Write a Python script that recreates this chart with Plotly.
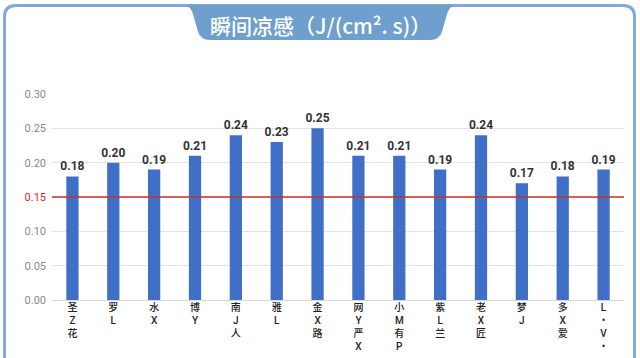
import plotly.graph_objects as go

W, H = 640, 358

categories = ["圣<br>Z<br>花", "罗<br>L", "水<br>X", "博<br>Y", "南<br>J<br>人", "雅<br>L",
              "金<br>X<br>路", "网<br>Y<br>严<br>X", "小<br>M<br>有<br>P", "紫<br>L<br>兰",
              "老<br>X<br>匠", "梦<br>J", "多<br>X<br>爱", "L<br>•<br>V<br>•"]
values = [0.18, 0.20, 0.19, 0.21, 0.24, 0.23, 0.25, 0.21, 0.21, 0.19, 0.24, 0.17, 0.18, 0.19]
threshold = 0.15
tick_vals = [0.00, 0.05, 0.10, 0.15, 0.20, 0.25, 0.30]
title_text = "瞬间凉感（J/(cm². s)）"

BAR = "#3f6fc6"
RED = "#c9302c"
FRAME = "#80a9d3"
TAB = "#6f9fcc"
FONT = "Noto Sans CJK SC, Noto Sans, sans-serif"


def px(x):
    return x / W


def py(y):
    return 1 - y / H


def path(cmds):
    out = []
    for c in cmds:
        if isinstance(c, str):
            out.append(c)
        else:
            out.append(f"{px(c[0]):.5f},{py(c[1]):.5f}")
    return " ".join(out)


fig = go.Figure()
fig.add_trace(go.Bar(
    x=categories, y=values, marker_color=BAR, marker_line_width=0,
    texttemplate="%{y:.2f}", textposition="outside", cliponaxis=False,
    constraintext="none", hoverinfo="skip",
    textfont=dict(family="Roboto, Noto Sans, sans-serif", size=12, color="#333333", weight="bold"),
))

ticktext = []
for v in tick_vals:
    s = f"{v:.2f}"
    if abs(v - threshold) < 1e-9:
        s = f"<span style='color:{RED}'>{s}</span>"
    ticktext.append(s)

shapes = [
    # outer frame
    dict(type="path", xref="paper", yref="paper",
         path=path(["M", (4.5, 365), "L", (4.5, 17), "Q", (4.5, 5.5), (16, 5.5),
                    "L", (623, 5.5), "Q", (634.5, 5.5), (634.5, 17), "L", (634.5, 365)]),
         line=dict(color=FRAME, width=3), layer="above"),
    # title tab
    dict(type="path", xref="paper", yref="paper",
         path=path(["M", (184, 5), "Q", (190, 5), (193, 14), "L", (198, 32),
                    "Q", (201, 40), (210, 40), "L", (430, 40), "Q", (439, 40), (442, 32),
                    "L", (447, 14), "Q", (450, 5), (456, 5), "Z"]),
         fillcolor=TAB, line=dict(width=0), layer="above"),
    # threshold line
    dict(type="line", xref="x domain", yref="y", x0=0, x1=1, y0=threshold, y1=threshold,
         line=dict(color=RED, width=1.5), layer="above"),
]

fig.update_layout(
    width=W, height=H,
    margin=dict(l=0, r=0, t=0, b=0, autoexpand=False),
    paper_bgcolor="white", plot_bgcolor="white",
    showlegend=False,
    bargap=0.7,
    font=dict(family=FONT),
    shapes=shapes,
    annotations=[dict(text=title_text, x=0.5, y=py(25), xref="paper", yref="paper",
                      showarrow=False, xanchor="center", yanchor="middle",
                      font=dict(family=FONT, size=21, color="white", weight=500))],
    xaxis=dict(domain=[px(52), px(624)], automargin=False,
               tickfont=dict(size=10, color="#222222", family="Roboto, Noto Sans CJK SC, sans-serif",
                             weight=500),
               showgrid=False, showline=False, ticks="", tickangle=0, fixedrange=True),
    yaxis=dict(domain=[1 - 300 / H, 1 - 94 / H], range=[0, 0.30], tickvals=tick_vals,
               automargin=False, fixedrange=True,
               ticktext=ticktext, showgrid=True, gridcolor="#e2e2e2", gridwidth=1,
               zeroline=True, zerolinecolor="#d8d8d8", zerolinewidth=1,
               tickfont=dict(size=11, color="#8a8a8a", family="Roboto, sans-serif"),
               ticklabelstandoff=5, showline=False, ticks=""),
)

fig.write_html("out.html", config={"displayModeBar": False},
               post_script="document.body.style.margin='0';document.body.style.overflow='hidden';")
